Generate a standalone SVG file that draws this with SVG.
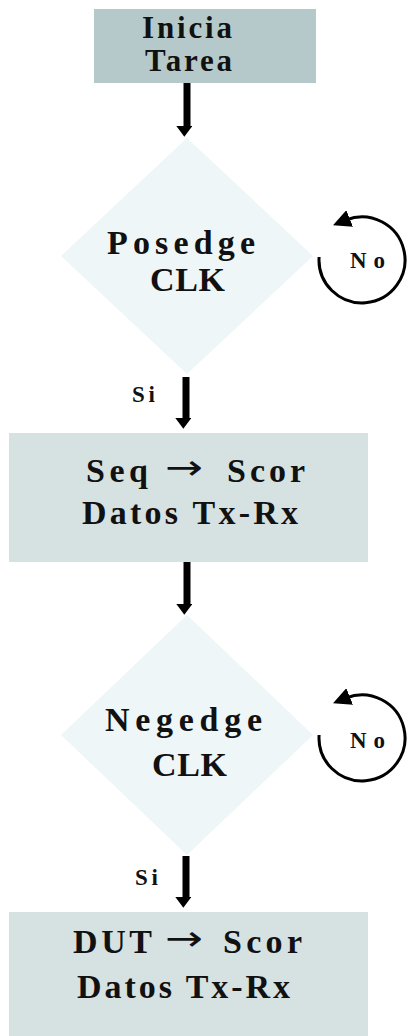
<svg xmlns="http://www.w3.org/2000/svg" width="410" height="1036" viewBox="0 0 410 1036">
  <defs>
    <style>
      .lbl { font-family: "Liberation Serif", "DejaVu Serif", serif; font-weight: bold; fill: #111; }
      .big { font-size: 34px; }
      .mid { font-size: 31px; }
      .sm { font-size: 23px; }
      .xs { font-size: 23px; }
      .arr { font-family: "DejaVu Sans", sans-serif; font-weight: normal; }
      .box-dark { fill: #b6c9ca; }
      .box-light { fill: #d6e1e2; }
      .dec { fill: #eef6f7; }
      .flow { stroke: #000; stroke-width: 7; fill: none; }
      .loop { stroke: #000; stroke-width: 3; fill: none; }
    </style>
    <marker id="head" markerUnits="userSpaceOnUse" markerWidth="24" markerHeight="16" refX="0" refY="8" orient="auto" viewBox="0 0 16 24">
      <path d="M0,0 L16,12 L0,24 Z" fill="#000"/>
    </marker>
    <marker id="loophead" markerUnits="userSpaceOnUse" markerWidth="18" markerHeight="18" refX="4" refY="9" orient="auto" viewBox="0 0 18 18">
      <path d="M0,0 L18,9 L0,18 Z" fill="#000"/>
    </marker>
  </defs>

  <!-- start box -->
  <g id="inicia">
    <rect class="box-dark" x="94" y="9" width="222" height="74"/>
    <text class="lbl mid" x="142" y="38" textLength="90" lengthAdjust="spacing">Inicia</text>
    <text class="lbl mid" x="145" y="71" textLength="87" lengthAdjust="spacing">Tarea</text>
  </g>

  <!-- first decision -->
  <g id="posedge">
    <polygon class="dec" points="187,138 313,256 187,374 61,256"/>
    <text class="lbl big" x="107" y="254" textLength="148" lengthAdjust="spacing">Posedge</text>
    <text class="lbl big" x="150" y="291" textLength="75" lengthAdjust="spacing">CLK</text>
  </g>

  <!-- first processing box -->
  <g id="seq-scor">
    <rect class="box-light" x="9" y="433" width="359" height="129"/>
    <text class="lbl big" y="482"><tspan x="86" textLength="62" lengthAdjust="spacing">Seq</tspan><tspan class="arr" x="165" y="479" textLength="38" lengthAdjust="spacingAndGlyphs">→</tspan><tspan x="227" y="482" textLength="78" lengthAdjust="spacing">Scor</tspan></text>
    <text class="lbl big" x="82" y="524" textLength="216" lengthAdjust="spacing">Datos Tx-Rx</text>
  </g>

  <!-- second decision -->
  <g id="negedge">
    <polygon class="dec" points="187,615 313,735 187,855 61,735"/>
    <text class="lbl big" x="105" y="731" textLength="157" lengthAdjust="spacing">Negedge</text>
    <text class="lbl big" x="152" y="776" textLength="75" lengthAdjust="spacing">CLK</text>
  </g>

  <!-- second processing box -->
  <g id="dut-scor">
    <rect class="box-light" x="9" y="912" width="359" height="124"/>
    <text class="lbl big" y="953"><tspan x="73" textLength="79" lengthAdjust="spacing">DUT</tspan><tspan class="arr" x="165" y="950" textLength="38" lengthAdjust="spacingAndGlyphs">→</tspan><tspan x="223" y="953" textLength="79" lengthAdjust="spacing">Scor</tspan></text>
    <text class="lbl big" x="77" y="998" textLength="213" lengthAdjust="spacing">Datos Tx-Rx</text>
  </g>

  <!-- connectors -->
  <g id="connectors">
    <line class="flow" x1="187" y1="83" x2="187" y2="126" marker-end="url(#head)"/>
    <line class="flow" x1="186" y1="377" x2="186" y2="418" marker-end="url(#head)"/>
    <line class="flow" x1="187" y1="562" x2="187" y2="604" marker-end="url(#head)"/>
    <line class="flow" x1="186" y1="856" x2="186" y2="897" marker-end="url(#head)"/>

    <path class="loop" d="M319.1,257 A43,43 0 1 0 346,220" marker-end="url(#loophead)"/>
    <path class="loop" d="M319.1,735 A43,43 0 1 0 346,698" marker-end="url(#loophead)"/>

    <text class="lbl sm" x="350" y="268" textLength="35" lengthAdjust="spacing">No</text>
    <text class="lbl sm" x="350" y="748" textLength="35" lengthAdjust="spacing">No</text>
    <text class="lbl xs" x="132" y="402" textLength="23" lengthAdjust="spacing">Si</text>
    <text class="lbl xs" x="135" y="885" textLength="23" lengthAdjust="spacing">Si</text>
  </g>
</svg>
